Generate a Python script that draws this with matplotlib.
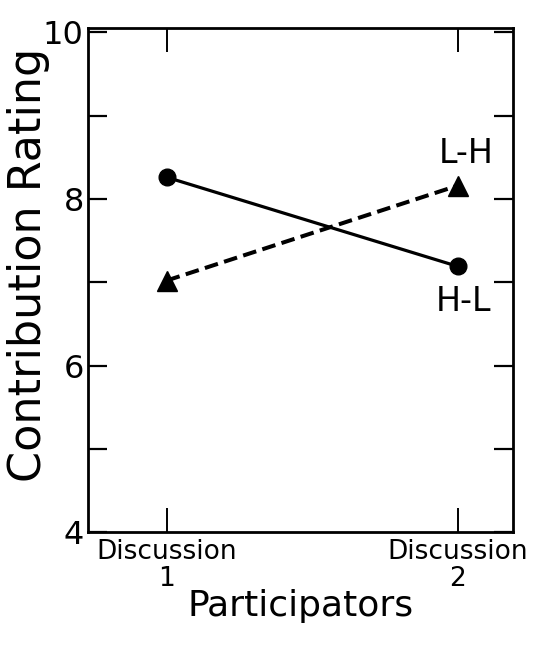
import matplotlib
matplotlib.use('Agg')
from matplotlib import pyplot as plt

sessions = [1, 2]
session_labels = ['Discussion\n1', 'Discussion\n2']
hl_values = [8.26, 7.19]
lh_values = [7.02, 8.16]
major_y = [4, 6, 8, 10]
minor_y = [5, 7, 9]


def main():
    fig = plt.figure(figsize=(5.43, 6.53), dpi=100)
    ax = fig.add_axes([0.162, 0.185, 0.783, 0.772])

    ax.plot(sessions, hl_values, color='black', linewidth=2.3,
            marker='o', markersize=12, solid_capstyle='round')
    ax.plot(sessions, lh_values, color='black', linewidth=2.9,
            linestyle=(0, (3.4, 1.6)), marker='^', markersize=14)

    ax.text(2.03, 8.54, 'L-H', fontsize=24, ha='center', va='center')
    ax.text(2.02, 6.77, 'H-L', fontsize=24, ha='center', va='center')

    ax.set_xlim(0.73, 2.19)
    ax.set_ylim(4, 10.05)

    ax.set_xticks(sessions)
    ax.set_xticklabels(session_labels, fontsize=19, linespacing=1.05)
    ax.set_yticks(major_y)
    ax.set_yticklabels([str(v) for v in major_y], fontsize=23)
    ax.set_yticks(minor_y, minor=True)

    ax.tick_params(axis='x', direction='in', length=17, width=1.4,
                   top=True, pad=5)
    ax.tick_params(axis='y', which='both', direction='in', length=14,
                   width=1.6, right=True, pad=3)

    for spine in ax.spines.values():
        spine.set_linewidth(2)

    ax.set_ylabel('Contribution Rating', fontsize=32)
    ax.yaxis.set_label_coords(-0.09, 0.53)
    ax.set_xlabel('Participators', fontsize=26, labelpad=-2)

    plt.savefig('out.png', dpi=100)


if __name__ == '__main__':
    main()
